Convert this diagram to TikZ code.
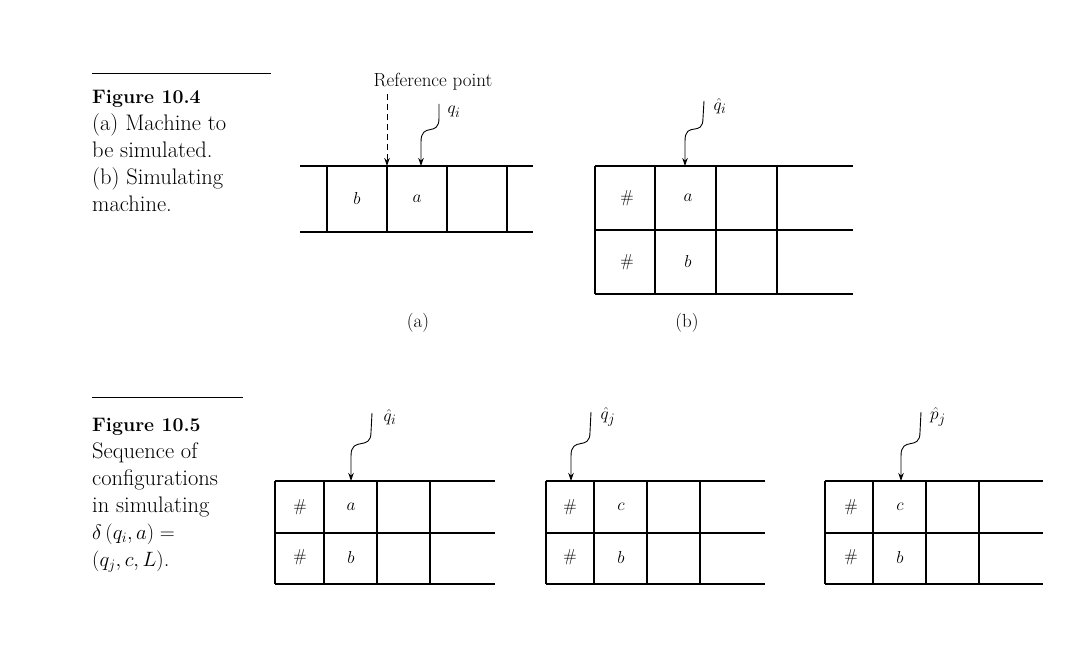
\documentclass[tikz,border=0pt]{standalone}
\usepackage{tikz}
\usetikzlibrary{arrows.meta}
\usepackage{amsmath}

\begin{document}
\begin{tikzpicture}[x=1pt,y=-1pt,font=\fontsize{19}{22}\selectfont,
  tape/.style={line width=1.1pt},
  head/.style={-{Stealth[length=8pt,width=5.5pt]},line width=0.9pt},
  captext/.style={anchor=north west,align=left,inner sep=0pt,font=\fontsize{22.5}{27}\selectfont},
  caprule/.style={line width=0.8pt}]
\useasboundingbox (0,0) rectangle (1092,652);

% captions
\draw[caprule] (92,73) -- (271,73);
\node[captext] (cap4) at (92,90) {{\bfseries\fontsize{19.5}{27}\selectfont Figure 10.4}\\(a) Machine to\\be simulated.\\(b) Simulating\\machine.};
\draw[caprule] (92,397) -- (243,397);
\node[captext] (cap5) at (92,418) {{\bfseries\fontsize{19.5}{27}\selectfont Figure 10.5}\\Sequence of\\configurations\\in simulating\\$\delta\,(q_i,a) =$\\$(q_j,c,L)$.};

% (a) machine to be simulated
\draw[tape] (300,166) -- (533,166) (300,232) -- (533,232)
  (327,166) -- (327,232) (387,166) -- (387,232) (447,166) -- (447,232) (507,166) -- (507,232);
\node (ta1) at (357,199) {$b$};
\node (ta2) at (417,199) {$a$};
\node (refpt) at (433,82) {Reference point};
\coordinate (ref-e) at (387,166);
\draw[head,dash pattern=on 6pt off 4pt] (refpt.south -| ref-e) -- (ref-e);
\node (qi) at (454,112) {$q_i$};
\coordinate (qi-s) at (439,104);
\coordinate (qi-e) at (421,166);
\draw[head] (qi-s) -- (439,118) .. controls (439,138) and (421,121) .. (421,142) -- (qi-e);
\node (la) at (418,323) {(a)};

% (b) simulating machine
\draw[tape] (595,166) -- (853,166) (595,230) -- (853,230) (595,294) -- (853,294)
  (595,166) -- (595,294) (655,166) -- (655,294) (716,166) -- (716,294) (777,166) -- (777,294);
\node (tb1) at (627,198) {$\#$};
\node (tb2) at (688,198) {$a$};
\node (tb3) at (627,262) {$\#$};
\node (tb4) at (688,262) {$b$};
\node (hqi) at (720,106) {$\hat{q}_i$};
\coordinate (hqi-s) at (704,101);
\coordinate (hqi-e) at (685,166);
\draw[head] (hqi-s) -- (703,118) .. controls (703,138) and (685,120) .. (685,141) -- (hqi-e);
\node (lb) at (687,323) {(b)};

% sequence of configurations
\draw[tape] (275,481) -- (495,481) (275,533) -- (495,533) (275,584) -- (495,584)
  (275,481) -- (275,584) (324,481) -- (324,584) (377,481) -- (377,584) (430,481) -- (430,584);
\node (s1a) at (300,507) {$\#$};
\node (s1b) at (351,507) {$a$};
\node (s1c) at (300,557) {$\#$};
\node (s1d) at (351,557) {$b$};
\node (s1h) at (390,417) {$\hat{q}_i$};
\coordinate (s1h-s) at (372,413);
\coordinate (s1h-e) at (351,481);
\draw[head] (s1h-s) -- (371,432) .. controls (371,452) and (351,435) .. (351,456) -- (s1h-e);

\draw[tape] (546,481) -- (765,481) (546,533) -- (765,533) (546,584) -- (765,584)
  (546,481) -- (546,584) (594,481) -- (594,584) (647,481) -- (647,584) (700,481) -- (700,584);
\node (s2a) at (570,507) {$\#$};
\node (s2b) at (621,507) {$c$};
\node (s2c) at (570,557) {$\#$};
\node (s2d) at (621,557) {$b$};
\node (s2h) at (608,417) {$\hat{q}_j$};
\coordinate (s2h-s) at (591,412);
\coordinate (s2h-e) at (571,481);
\draw[head] (s2h-s) -- (590,432) .. controls (590,452) and (571,435) .. (571,456) -- (s2h-e);

\draw[tape] (825,481) -- (1043,481) (825,533) -- (1043,533) (825,584) -- (1043,584)
  (825,481) -- (825,584) (873,481) -- (873,584) (926,481) -- (926,584) (979,481) -- (979,584);
\node (s3a) at (851,507) {$\#$};
\node (s3b) at (900,507) {$c$};
\node (s3c) at (851,557) {$\#$};
\node (s3d) at (900,557) {$b$};
\node (s3h) at (938,417) {$\hat{p}_j$};
\coordinate (s3h-s) at (921,412);
\coordinate (s3h-e) at (901,481);
\draw[head] (s3h-s) -- (920,432) .. controls (920,452) and (901,435) .. (901,456) -- (s3h-e);
\end{tikzpicture}
\end{document}
